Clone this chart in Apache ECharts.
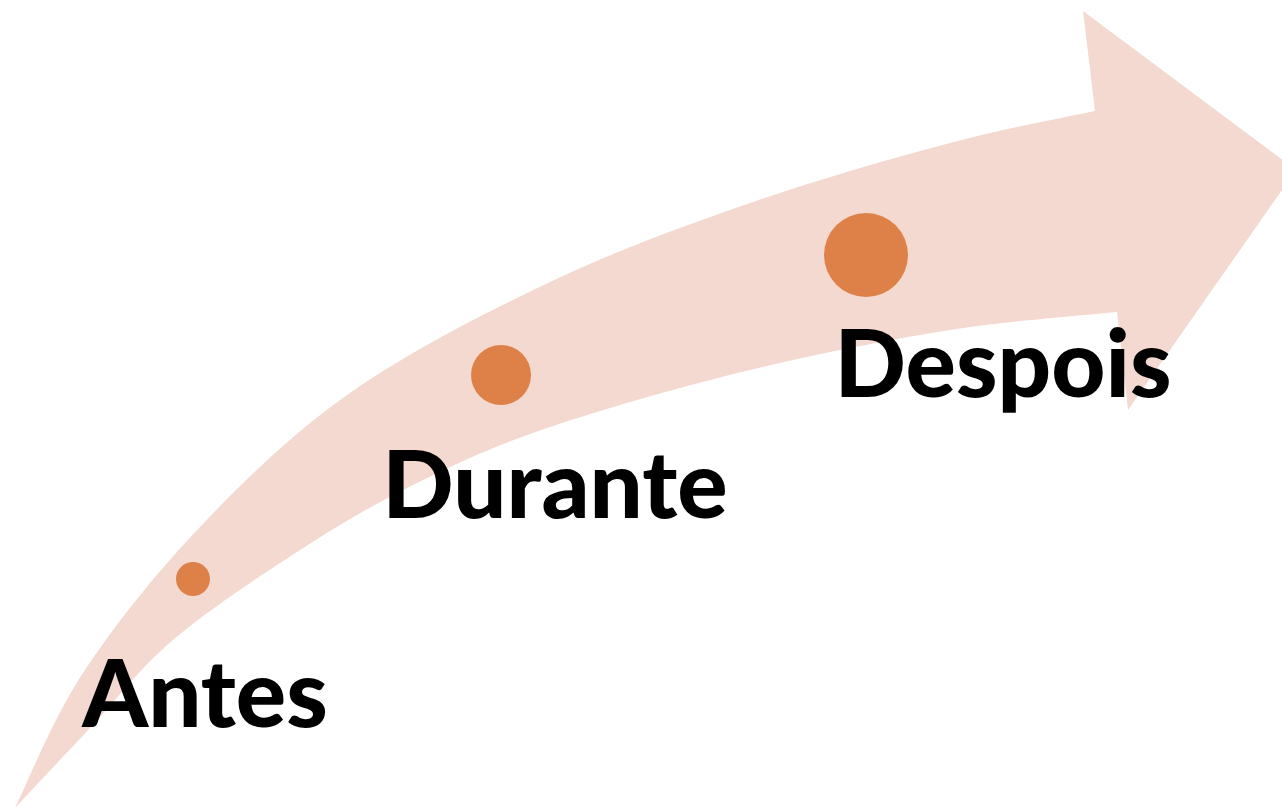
<!DOCTYPE html>
<html><head><meta charset="utf-8">
<script src="https://cdn.jsdelivr.net/npm/echarts@6/dist/echarts.min.js"></script>
<style>html,body{margin:0;padding:0;background:#fff}#c{width:1282px;height:807px}</style>
</head><body><div id="c"></div>
<script>
// Stages along the arrow
var stages = ['Antes', 'Durante', 'Despois'];
var stageX = [193, 501, 866];
var stageY = [579, 375, 255];
var stageSize = [34, 60, 84];
var labelOffsetX = [12, 54, 137];
var labelOffsetY = [101, 83, 70];

// Arrow body: upper edge (tip -> head), lower edge (head -> tip)
var arrowUpperX = [15, 83, 200, 350, 550, 750, 950, 1095];
var arrowUpperY = [808, 673, 527, 393, 282, 203, 143, 111];
var arrowLowerX = [1117, 950, 750, 550, 417, 300, 173, 90, 15];
var arrowLowerY = [312, 330, 370, 427, 483, 550, 640, 728, 808];
// Arrow head: top barb, tip, bottom barb
var arrowHeadX = [1083, 1296, 1128];
var arrowHeadY = [11, 170, 410];

function zip(xs, ys) { return xs.map(function (x, i) { return [x, ys[i]]; }); }
var upper = zip(arrowUpperX, arrowUpperY);
var lower = zip(arrowLowerX, arrowLowerY);
var head = zip(arrowHeadX, arrowHeadY);

// Catmull-Rom through points, as cubic bezier path commands (after the first point)
function splineCmds(p) {
  var s = '';
  for (var i = 0; i < p.length - 1; i++) {
    var p0 = p[i - 1] || p[i], p1 = p[i], p2 = p[i + 1], p3 = p[i + 2] || p[i + 1];
    var c1 = [p1[0] + (p2[0] - p0[0]) / 6, p1[1] + (p2[1] - p0[1]) / 6];
    var c2 = [p2[0] - (p3[0] - p1[0]) / 6, p2[1] - (p3[1] - p1[1]) / 6];
    s += ' C' + c1[0] + ' ' + c1[1] + ' ' + c2[0] + ' ' + c2[1] + ' ' + p2[0] + ' ' + p2[1];
  }
  return s;
}

var fillPink = '#F3D9D0';
var chart = echarts.init(document.getElementById('c'), null, {renderer: 'canvas'});
chart.setOption({
  animation: false,
  grid: {left: 0, right: 0, top: 0, bottom: 0},
  xAxis: {type: 'value', min: 0, max: 1282, show: false},
  yAxis: {type: 'value', min: 0, max: 807, inverse: true, show: false},
  series: [
    {
      type: 'custom',
      silent: true,
      clip: false,
      data: [[0, 0]],
      renderItem: function (params, api) {
        var u = upper.map(function (p) { return api.coord(p); });
        var l = lower.map(function (p) { return api.coord(p); });
        var h = head.map(function (p) { return api.coord(p); });
        var d = 'M' + u[0][0] + ' ' + u[0][1] + splineCmds(u);
        h.forEach(function (p) { d += ' L' + p[0] + ' ' + p[1]; });
        d += ' L' + l[0][0] + ' ' + l[0][1] + splineCmds(l) + ' Z';
        return {type: 'path', shape: {pathData: d}, style: {fill: fillPink}};
      }
    },
    {
      type: 'scatter',
      symbol: 'circle',
      itemStyle: {color: '#DE8149', opacity: 1},
      data: stages.map(function (s, i) {
        return {
          name: s,
          value: [stageX[i], stageY[i]],
          symbolSize: stageSize[i],
          label: {
            show: true,
            formatter: s,
            position: 'inside',
            offset: [labelOffsetX[i], labelOffsetY[i] + stageSize[i] / 2],
            color: '#000',
            fontFamily: 'Lato',
            fontWeight: 900,
            fontSize: 94,
            align: 'center',
            verticalAlign: 'middle'
          }
        };
      })
    }
  ]
});
</script></body></html>
